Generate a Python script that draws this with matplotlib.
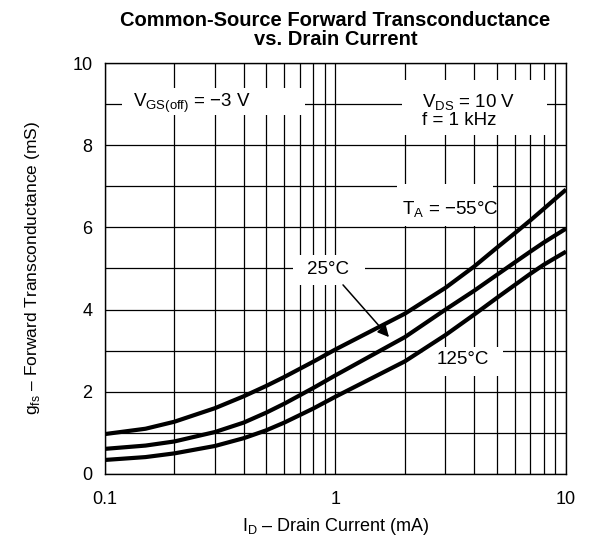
import numpy as np
import matplotlib
matplotlib.use("Agg")
import matplotlib.pyplot as plt
from matplotlib.patches import Rectangle
from matplotlib.ticker import FixedLocator, NullFormatter, MultipleLocator

plt.rcParams["font.family"] = ["Liberation Sans", "DejaVu Sans"]
plt.rcParams["mathtext.fontset"] = "custom"
plt.rcParams["mathtext.rm"] = "Liberation Sans"

# -------------------------
# Data
# -------------------------
id_ma = [0.1, 0.15, 0.2, 0.3, 0.4, 0.5, 0.6, 0.8, 1, 2, 3, 4, 5, 6, 7, 8, 9, 10]
gfs_m55 = [0.97, 1.10, 1.27, 1.60, 1.89, 2.14, 2.36, 2.73, 3.03, 3.90, 4.53, 5.05, 5.50, 5.86, 6.17, 6.45, 6.70, 6.92]
gfs_25 = [0.61, 0.69, 0.79, 1.02, 1.25, 1.49, 1.71, 2.09, 2.40, 3.33, 4.00, 4.46, 4.84, 5.15, 5.41, 5.63, 5.81, 5.97]
gfs_125 = [0.34, 0.41, 0.50, 0.68, 0.87, 1.06, 1.25, 1.59, 1.88, 2.74, 3.38, 3.88, 4.28, 4.60, 4.87, 5.09, 5.26, 5.41]

x_major = [0.1, 1, 10]
x_major_labels = ["0.1", "1", "10"]
x_minor = [0.2, 0.3, 0.4, 0.5, 0.6, 0.7, 0.8, 0.9, 2, 3, 4, 5, 6, 7, 8, 9]

# -------------------------
# Figure
# -------------------------
fig = plt.figure(figsize=(5.93, 5.46), dpi=100)
ax = fig.add_axes([0.177, 0.132, 0.7775, 0.7526])

ax.set_xscale("log")
ax.set_xlim(0.1, 10)
ax.set_ylim(0, 10)

ax.xaxis.set_major_locator(FixedLocator(x_major))
ax.set_xticklabels(x_major_labels)
ax.xaxis.set_minor_locator(FixedLocator(x_minor))
ax.xaxis.set_minor_formatter(NullFormatter())
ax.yaxis.set_major_locator(MultipleLocator(2))
ax.yaxis.set_minor_locator(MultipleLocator(1))

ax.grid(True, which="both", color="black", linewidth=0.9, zorder=0)
ax.set_axisbelow(True)
ax.tick_params(which="both", length=0, labelsize=13)
ax.tick_params(axis="x", pad=12)
ax.tick_params(axis="y", pad=9)
for s in ax.spines.values():
    s.set_linewidth(1.0)

for g in (gfs_m55, gfs_25, gfs_125):
    ax.plot(id_ma, g, color="black", linewidth=3.0, solid_capstyle="butt", zorder=3)

# white label boxes that cut the grid
def white_box(x0, x1, y0, y1):
    ax.add_patch(Rectangle((x0, y0), x1 - x0, y1 - y0, facecolor="white",
                           edgecolor="none", zorder=1.5))

white_box(0.1185, 0.74, 8.73, 9.39)
white_box(1.95, 8.27, 8.25, 9.59)
white_box(1.85, 4.82, 6.03, 7.05)
white_box(0.654, 1.343, 4.6, 5.33)
white_box(2.40, 5.33, 2.38, 3.09)

fs = 13.5
ax.text(0.1323, 9.02, r"V$_{\mathregular{GS(off)}}$ = −3 V", fontsize=fs,
        va="center", ha="left", zorder=4)
ax.text(2.37, 8.84, "V$_{\\mathregular{DS}}$ = 10 V\nf = 1 kHz", fontsize=fs,
        va="center", ha="left", linespacing=0.95, zorder=4)
ax.text(1.937, 6.42, r"T$_{\mathregular{A}}$ = −55°C", fontsize=fs,
        va="center", ha="left", zorder=4)
ax.text(0.93, 4.98, "25°C", fontsize=fs, va="center", ha="center", zorder=4)
ax.text(3.58, 2.79, "125°C", fontsize=fs, va="center", ha="center", zorder=4)
ax.annotate("", xy=(1.706, 3.33), xytext=(1.078, 4.6),
            arrowprops=dict(arrowstyle="-|>", color="black", lw=1.1,
                            mutation_scale=17, shrinkA=0, shrinkB=0), zorder=5)

ax.set_xlabel(r"I$_{\mathregular{D}}$ – Drain Current (mA)", fontsize=13)
ax.xaxis.set_label_coords(0.5, -0.102)
ax.set_ylabel(r"g$_{\mathregular{fs}}$ – Forward Transconductance (mS)", fontsize=12.5)
ax.yaxis.set_label_coords(-0.137, 0.5)

fig.text(335.5 / 593, 1 - 11 / 546, "Common-Source Forward Transconductance\nvs. Drain Current",
         fontsize=14.5, fontweight="bold", linespacing=1.0, ha="center", va="top")

fig.savefig("out.png", dpi=100)
